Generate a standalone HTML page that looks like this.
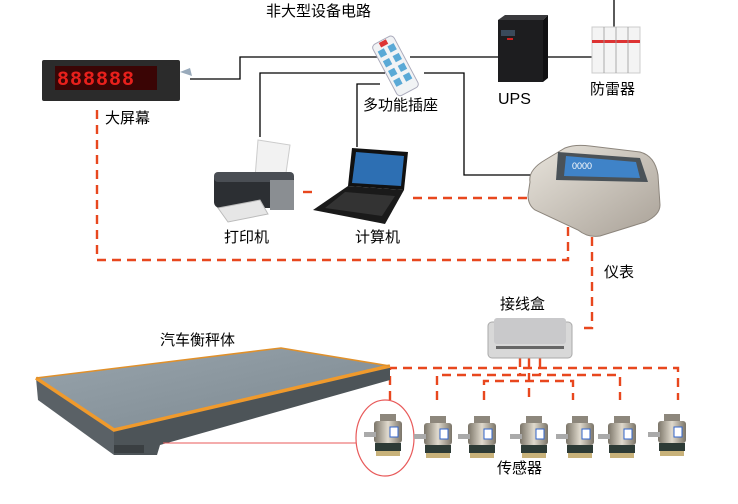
<!DOCTYPE html>
<html><head><meta charset="utf-8"><style>
html,body{margin:0;padding:0;background:#fff;}
svg{display:block;}
text{font-family:"Liberation Sans","Noto Sans CJK SC",sans-serif;font-size:15px;fill:#000;}
</style></head><body>
<svg width="738" height="504" viewBox="0 0 738 504" xmlns="http://www.w3.org/2000/svg">
<defs>
<linearGradient id="steel" x1="0" y1="0" x2="1" y2="1"><stop offset="0" stop-color="#e8e4dc"/><stop offset="1" stop-color="#a9a197"/></linearGradient>
<linearGradient id="plat" x1="0" y1="0" x2="1" y2="1"><stop offset="0" stop-color="#98a4ac"/><stop offset="1" stop-color="#7c8890"/></linearGradient>
<linearGradient id="cell" x1="0" y1="0" x2="1" y2="0"><stop offset="0" stop-color="#7a7468"/><stop offset="0.5" stop-color="#e0dacd"/><stop offset="1" stop-color="#7a7468"/></linearGradient>
<g id="sensor">
<rect x="-8" y="-20" width="16" height="8" fill="#8d877c"/>
<rect x="-14" y="-13" width="28" height="22" rx="3" fill="url(#cell)"/>
<rect x="2" y="-7" width="8" height="10" fill="#fff" stroke="#36c" stroke-width="1"/>
<rect x="-24" y="-2" width="12" height="5" fill="#aaa"/>
<rect x="-13" y="9" width="26" height="8" fill="#2d3b36"/>
<rect x="-12" y="17" width="24" height="5" fill="#c8b27a"/>
</g>
</defs>

<g stroke="#000" stroke-width="1.3" fill="none">
<polyline points="190,79 240,79 240,57 383,57"/>
<polyline points="410,57 498,57"/>
<polyline points="543,57 593,57"/>
<line x1="614" y1="0" x2="614" y2="27"/>
<polyline points="260,137 260,73 385,73"/>
<polyline points="357,147 357,84 380,84"/>
<polyline points="424,73 464,73 464,175 542,175"/>
</g>

<g stroke="#e8471e" stroke-width="2.4" fill="none" stroke-dasharray="9,6">
<polyline points="97,110 97,260 568,260 568,225"/>
<line x1="303" y1="192" x2="318" y2="192"/>
<line x1="413" y1="198" x2="540" y2="198"/>
<polyline points="592,222 592,328 578,328"/>
<polyline points="390,400 390,368 678,368 678,400"/>
<polyline points="437,400 437,375 620,375 620,400"/>
<polyline points="484,400 484,381 573,381 573,400"/>
<line x1="529" y1="358" x2="529" y2="400"/>
<line x1="520" y1="358" x2="520" y2="375"/>
<line x1="540" y1="358" x2="540" y2="375"/>
</g>

<rect x="42" y="60" width="138" height="41" rx="2" fill="#2b2b2b"/>
<rect x="55" y="66" width="102" height="24" fill="#3a0505"/>
<text x="57" y="85" style="font-family:'Liberation Mono',monospace;font-size:20px;fill:#e8201c;font-weight:bold;letter-spacing:1px">888888</text>
<path d="M180 72 l10 -4 l2 8 z" fill="#9ab"/>

<g transform="translate(395,65) rotate(-28)">
<rect x="-12" y="-28" width="24" height="58" rx="4" fill="#f1f3f5" stroke="#aab" stroke-width="1"/>
<g fill="#5aa9d6"><rect x="-9" y="-20" width="7" height="7"/><rect x="2" y="-20" width="7" height="7"/><rect x="-9" y="-9" width="7" height="7"/><rect x="2" y="-9" width="7" height="7"/><rect x="-9" y="2" width="7" height="7"/><rect x="2" y="2" width="7" height="7"/><rect x="-9" y="13" width="7" height="7"/><rect x="2" y="13" width="7" height="7"/></g>
<rect x="-4" y="-27" width="8" height="5" fill="#d33"/>
</g>

<rect x="498" y="20" width="45" height="62" fill="#1d1d1f"/>
<polygon points="498,20 505,15 548,15 543,20" fill="#3a3a3d"/>
<polygon points="543,20 548,15 548,78 543,82" fill="#101012"/>
<rect x="501" y="30" width="14" height="6" fill="#3a4a5a"/>
<rect x="507" y="38" width="6" height="2" fill="#c22"/>

<rect x="592" y="27" width="48" height="46" fill="#f4f4f4" stroke="#ccc"/>
<rect x="592" y="40" width="48" height="3" fill="#d33"/>
<g stroke="#999" stroke-width="0.8"><line x1="604" y1="27" x2="604" y2="73"/><line x1="616" y1="27" x2="616" y2="73"/><line x1="628" y1="27" x2="628" y2="73"/></g>

<polygon points="258,140 290,145 285,180 255,178" fill="#f2f2f2" stroke="#ccc"/>
<rect x="214" y="172" width="80" height="36" rx="6" fill="#2c2f33"/>
<rect x="214" y="172" width="80" height="10" rx="4" fill="#4a4e54"/>
<rect x="270" y="180" width="24" height="30" fill="#8a8e92"/>
<polygon points="218,208 260,200 268,214 228,222" fill="#e6e6e6" stroke="#bbb"/>

<polygon points="352,148 408,152 404,190 348,186" fill="#111"/>
<polygon points="356,152 404,156 401,186 352,183" fill="#2d6fb3"/>
<polygon points="348,186 404,190 385,224 313,210" fill="#1a1a1a"/>
<polygon points="345,192 395,196 382,216 325,208" fill="#333"/>

<path d="M530,182 Q528,170 545,160 L565,148 Q575,144 590,146 L640,152 Q655,156 658,175 L660,205 Q660,215 645,222 L600,236 Q588,238 578,230 L535,210 Q528,205 528,195 Z" fill="url(#steel)" stroke="#8c857c"/>
<polygon points="558,152 640,158 648,182 556,180" fill="#4a5258"/>
<polygon points="566,156 636,162 640,178 564,176" fill="#3f83c8"/>
<text x="572" y="169" style="font-size:9px;fill:#fff">0000</text>

<rect x="488" y="322" width="84" height="36" rx="4" fill="#d8d8d8" stroke="#aaa"/>
<rect x="494" y="318" width="72" height="26" rx="3" fill="#c9c9cb"/>
<rect x="496" y="346" width="68" height="3" fill="#666"/>

<polygon points="36,378 281,348 390,366 114,430" fill="url(#plat)"/>
<polygon points="36,378 114,430 114,455 38,400" fill="#5a6166"/>
<polygon points="114,430 390,366 390,380 160,445 157,455 114,455" fill="#4d5458"/>
<polyline points="36,378 114,430 390,366" stroke="#f09a2c" stroke-width="3.5" fill="none"/>
<polyline points="36,378 281,348 390,366" stroke="#e0902a" stroke-width="1.5" fill="none"/>
<rect x="114" y="445" width="30" height="8" fill="#3a3f42"/>

<line x1="163" y1="443" x2="356" y2="443" stroke="#e85a5a" stroke-width="1"/>
<ellipse cx="385" cy="438" rx="29" ry="38" fill="none" stroke="#e85a5a" stroke-width="1.2"/>
<use href="#sensor" x="388" y="434"/>
<use href="#sensor" x="438" y="436"/>
<use href="#sensor" x="482" y="436"/>
<use href="#sensor" x="534" y="436"/>
<use href="#sensor" x="580" y="436"/>
<use href="#sensor" x="622" y="436"/>
<use href="#sensor" x="672" y="434"/>

<text x="266" y="16">非大型设备电路</text>
<text x="105" y="123">大屏幕</text>
<text x="363" y="110">多功能插座</text>
<text x="498" y="104" style="font-size:16px">UPS</text>
<text x="590" y="94">防雷器</text>
<text x="224" y="242">打印机</text>
<text x="355" y="242">计算机</text>
<text x="604" y="277">仪表</text>
<text x="500" y="309">接线盒</text>
<text x="160" y="345">汽车衡秤体</text>
<text x="497" y="473">传感器</text>
</svg>
</body></html>
